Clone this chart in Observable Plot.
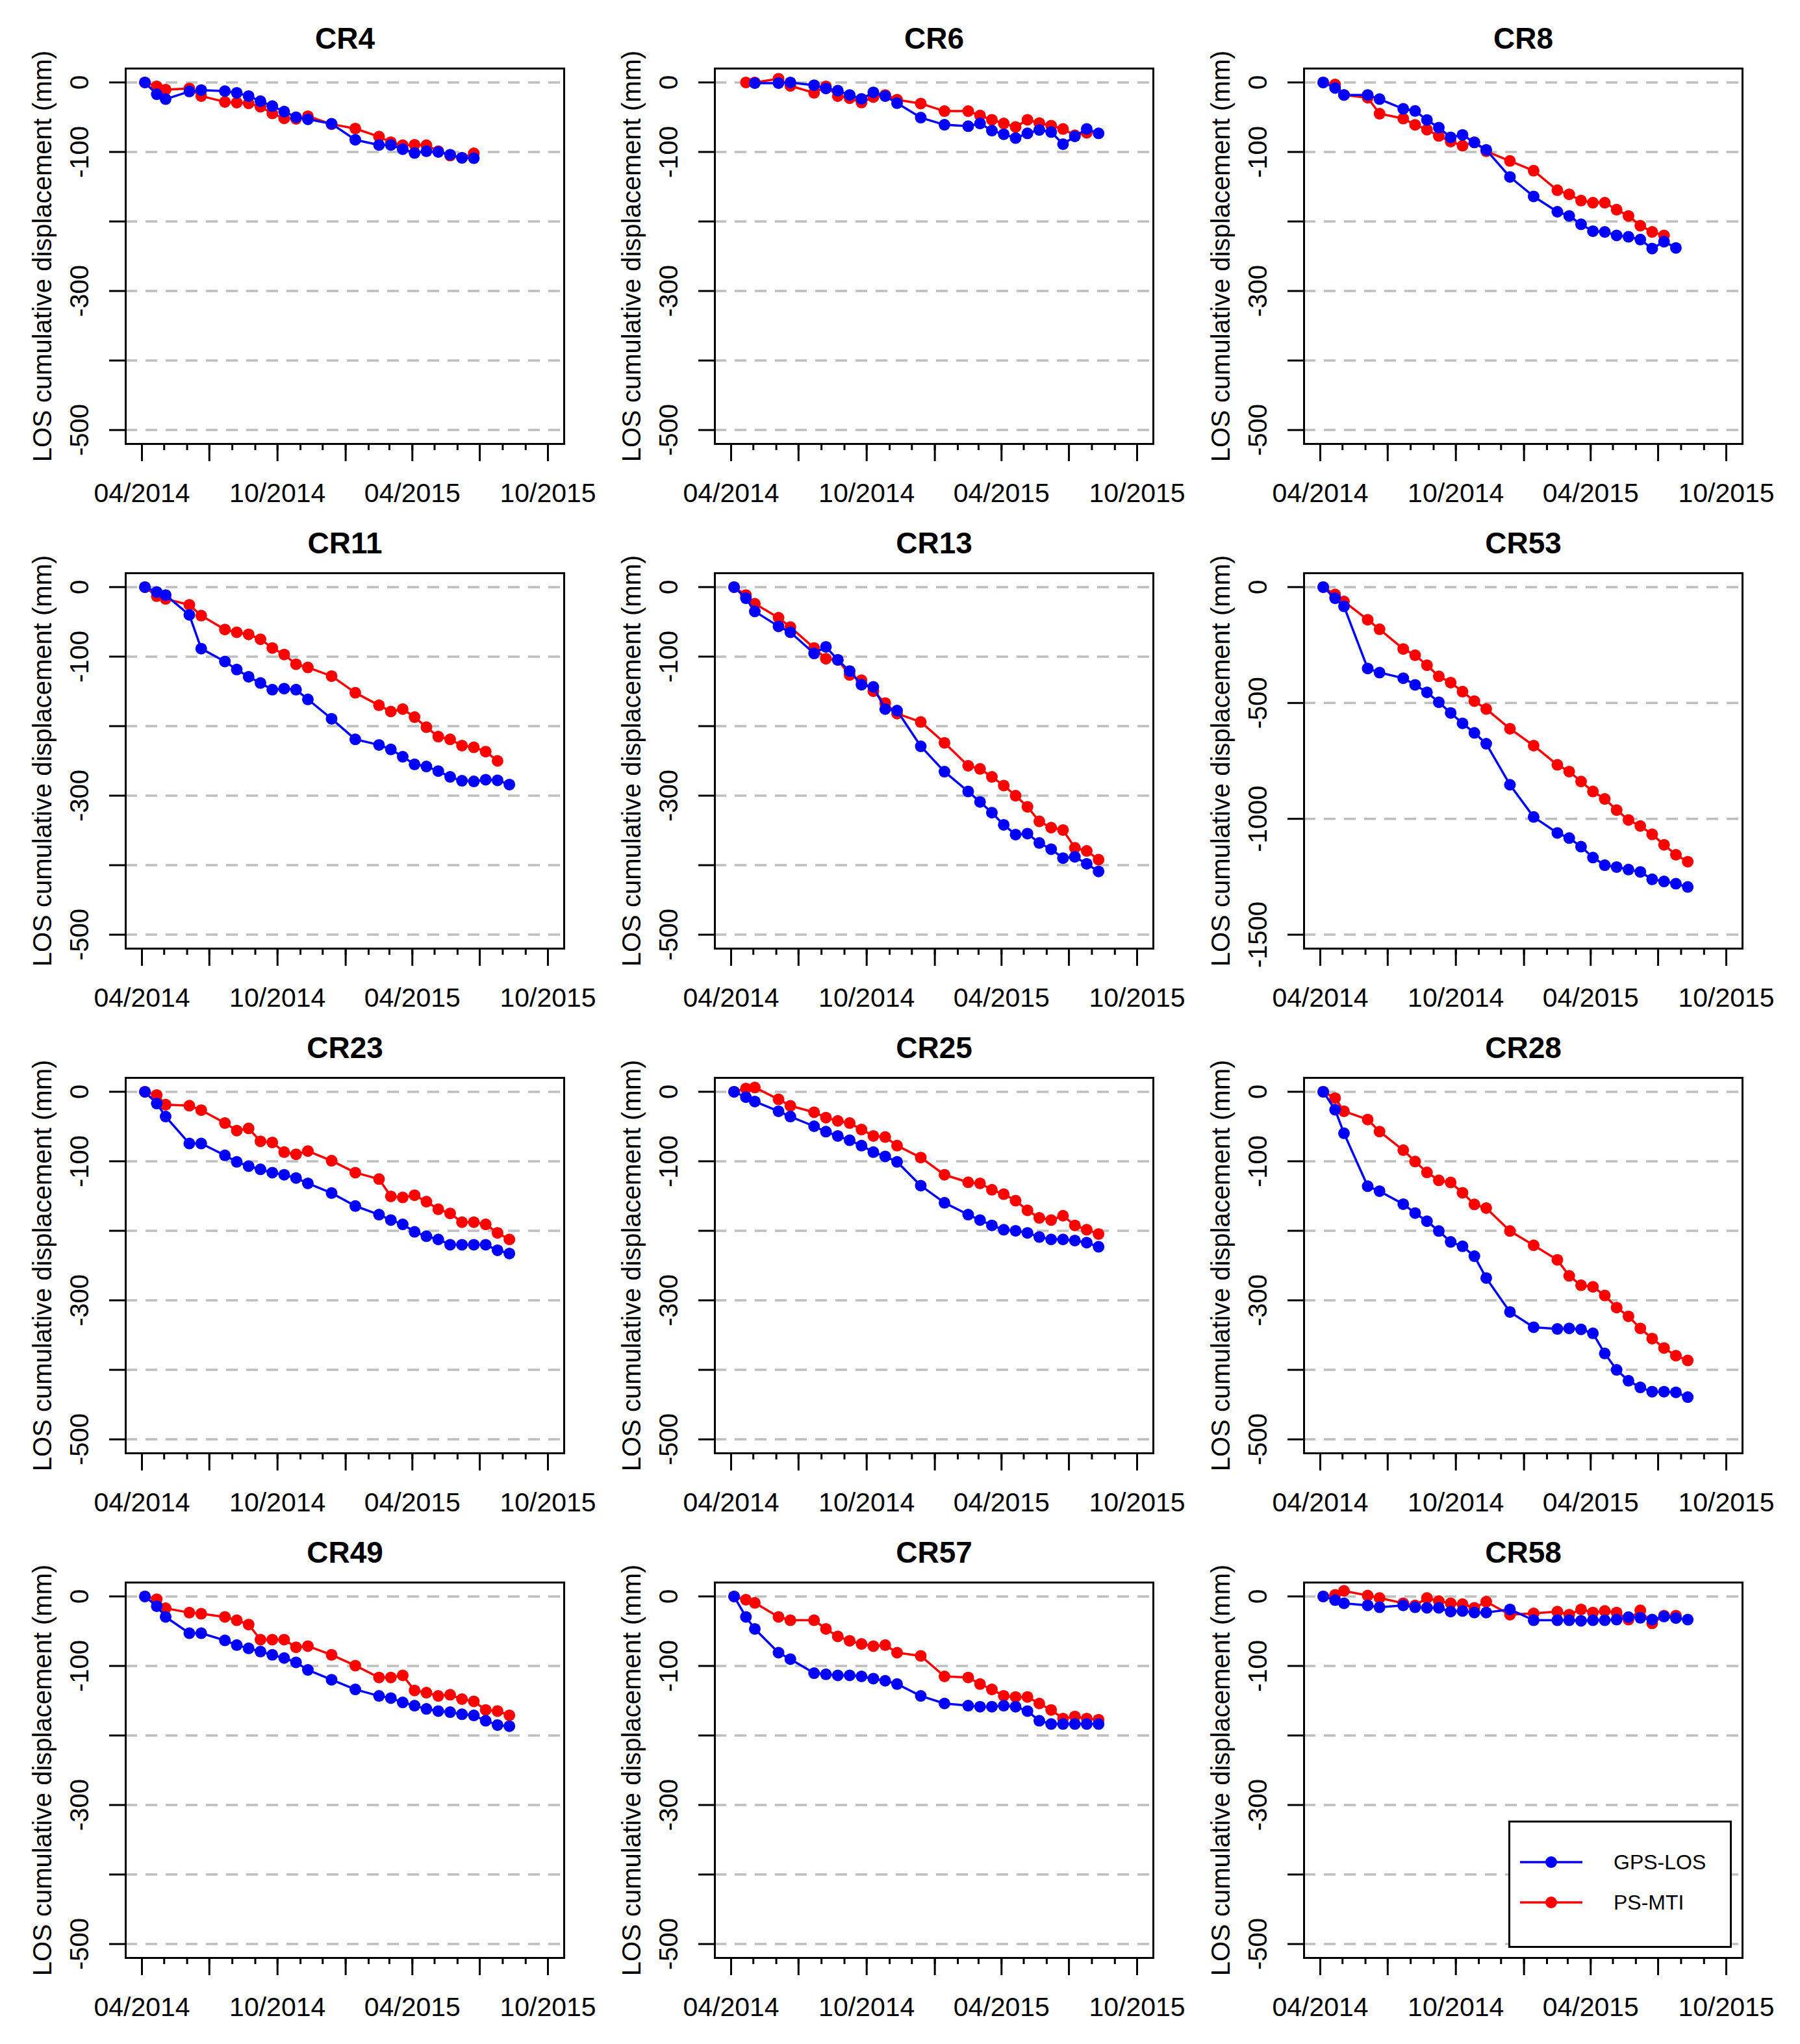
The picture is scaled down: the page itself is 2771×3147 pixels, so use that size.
<!DOCTYPE html>
<html>
<head>
<meta charset="utf-8">
<script src="https://cdn.jsdelivr.net/npm/d3@7"></script>
<script src="https://cdn.jsdelivr.net/npm/@observablehq/plot@0.6"></script>
<style>
  body { margin: 0; background: #fff; font-family: "Liberation Sans", Arial, Helvetica, sans-serif; }
  #grid { display: flex; flex-wrap: wrap; width: 2721px; }
  .cell { position: relative; width: 907px; height: 777px; }
  .cell > svg { position: absolute; left: 0; top: 0; }
  .legend { position: absolute; border: 3px solid #000; box-sizing: border-box; background: #fff; z-index: 2; }
</style>
</head>
<body>
<div id="grid"></div>
<script>
// ---------- data ----------
const dates = ["2014-04-05","2014-04-21","2014-05-03","2014-06-04","2014-06-20","2014-07-22","2014-08-07","2014-08-23","2014-09-08","2014-09-24","2014-10-10","2014-10-26","2014-11-11","2014-12-13","2015-01-14","2015-02-15","2015-03-03","2015-03-19","2015-04-04","2015-04-20","2015-05-06","2015-05-22","2015-06-07","2015-06-23","2015-07-09","2015-07-25","2015-08-10"];

const panelNames = ["CR4","CR6","CR8","CR11","CR13","CR53","CR23","CR25","CR28","CR49","CR57","CR58"];
const seriesNames = ["GPS-LOS","PS-MTI"];

const cr4Gps = [0,-17,-24,-13,-11,-12.5,-15,-19.6,-27,-34,-42,-50,-53,-59.5,-82.5,-90,-90,-96,-101.5,-99,-100,-104,-108.4,-109,null,null,null];
const cr4Ps  = [0,-5.6,-10.3,-8.7,-19.6,-28,-29,-30,-35,-44.5,-51.7,-52.3,-48.6,-60,-66.4,-77.9,-86,-90.3,-89.7,-90.3,-99,-105.3,-108.4,-102,null,null,null];
const cr6Gps = [null,null,-1,-1,0,-4,-8.7,-11.8,-18,-23.6,-14.3,-19.6,-29.8,-50.6,-60.9,-63,-59,-69.3,-74.5,-80,-73.3,-68.3,-71.4,-88.8,-77.6,-67,-73.3];
const cr6Ps  = [null,0,0,5.3,-5,-14.9,-5.6,-19.6,-22.7,-28.9,-21.1,-18,-24.8,-30.4,-41.3,-41.3,-47.5,-53.7,-59,-64,-53.7,-58.4,-62.1,-67,-76,-72.4,null];
const cr8Gps = [0,-8,-18,-18,-24,-38,-41,-54,-65,-79,-75.5,-86.3,-97,-136,-164,-186,-192,-204,-214,-215,-220,-222,-226,-239,-229,-238,null];
const cr8Ps  = [0,-3,-18,-22,-45,-52,-61,-68,-77,-85,-91,-86,-99,-113,-127,-155,-161,-170,-173,-173,-183,-192,-206,-215,-220,null,null];
const cr11Gps = [0,-7,-11.5,-40,-88.5,-107,-118.6,-129,-138,-147.5,-146,-147.5,-161.5,-189.4,-219,-227,-233.5,-244,-255,-258,-264.6,-273,-278.6,-279.5,-277,-278,-284];
const cr11Ps  = [0,-13,-17,-25.5,-41,-61,-65,-68,-75,-87.6,-97,-111,-115.5,-128,-152,-170,-179,-175.5,-187,-201.5,-215,-219,-228,-230.4,-236.6,-250,null];
const cr13Gps = [0,-16,-35,-56.5,-65,-95.4,-86,-104.7,-120.8,-140.4,-143.5,-175.5,-177.6,-229,-265.5,-294,-309,-324.5,-342,-356,-354.6,-368,-377,-389.8,-388,-398,-409];
const cr13Ps  = [0,-11.5,-24,-44,-57.5,-87.6,-103,-104.7,-126.4,-134,-149.7,-166.8,-182,-194,-224,-257,-261.5,-273,-285.4,-300,-316,-337,-346,-349.4,-375,-379.5,-392];
const cr53Gps = [0,-48,-83,-351,-369,-393,-422,-454,-497,-543,-588,-629,-676,-853,-992,-1061,-1083,-1120,-1167,-1200,-1208,-1219,-1229,-1261,-1270,-1280,-1294];
const cr53Ps  = [0,-32,-62,-141,-182,-267,-294,-337,-385,-412,-451,-492,-526,-611,-684,-767,-796,-839,-882,-914,-962,-1005,-1031,-1067,-1112,-1155,-1185];
const cr23Gps = [0,-17,-35.7,-74.4,-74.4,-91.5,-100.8,-107,-111.6,-116.3,-119.4,-124,-131.8,-145.7,-164.3,-176.7,-184.5,-190.7,-201.5,-207.8,-212.4,-220,-220,-220,-220,-228,-232.6];
const cr23Ps  = [0,-4.7,-18.6,-20,-26.4,-45,-55.8,-52.7,-71.3,-72.9,-86.8,-89.9,-85.3,-99.2,-116.3,-125.6,-150.4,-152,-148.8,-158,-169,-175,-187.6,-187.6,-190.7,-203,-212.4];
const cr25Gps = [0,-7.8,-14,-28,-35.7,-49.6,-57.4,-63.6,-69.8,-77.5,-86.8,-93,-100.8,-135,-159.7,-176.7,-184.5,-192.2,-198.4,-200,-203,-209,-212.4,-212.4,-214,-217,-223];
const cr25Ps  = [0,4.7,6.2,-10.9,-20.2,-29.5,-37.2,-41.9,-45,-54.3,-63.6,-65.1,-77.5,-94.6,-119.4,-130.2,-131.8,-141,-147.3,-156.6,-170.5,-181.4,-184.5,-178.3,-192.2,-198.4,-204.6];
const cr28Gps = [0,-25.8,-59.7,-135.8,-143,-161.6,-174.5,-186.2,-200.3,-216,-222.3,-236.5,-267.9,-316.7,-338.7,-341.2,-340.3,-341.8,-347.5,-376.4,-400,-415.7,-425.2,-431.4,-431.4,-432.4,-439.3];
const cr28Ps  = [0,-9.1,-28,-40,-57.2,-84,-100.3,-116,-127.4,-130.5,-145.3,-162,-167.3,-200.3,-220.8,-241.8,-264.8,-278.3,-280.5,-293,-310.4,-323,-340.3,-355,-368.6,-379.6,-386.5];
const cr49Gps = [0,-14,-29.5,-52.9,-52.9,-63.2,-70,-74.7,-79.3,-84,-88.6,-94.9,-105.7,-119.8,-133.8,-143.1,-146.2,-152.4,-157.1,-161.8,-164.9,-166.4,-169.5,-171.1,-178.8,-185,-186.6];
const cr49Ps  = [0,-4,-17,-23.3,-24.9,-29.5,-34.2,-40.4,-62.2,-62.2,-62.2,-73.1,-71.5,-84,-99.5,-116.6,-116.6,-113.5,-135.3,-138.4,-143.1,-141.5,-147.7,-150.9,-163.3,-164.9,-171];
const cr57Gps = [0,-29.5,-46.7,-80.9,-90.2,-110.4,-112,-113.5,-113.5,-115,-118.2,-121.3,-126,-143.1,-154,-157.1,-158.6,-158.6,-157.1,-158.6,-164.9,-178.8,-183.5,-183.5,-183.5,-183.5,-183.5];
const cr57Ps  = [0,-4.7,-9.3,-29.5,-34.2,-34.2,-46.7,-57.5,-63.8,-68.4,-71.5,-70,-80.9,-85.5,-115,-116.6,-126,-133.8,-143,-144.6,-144.6,-154,-163.3,-175.7,-172.6,-175.7,-177.3];
const cr58Gps = [0,-5.3,-9.8,-12.9,-15.6,-12.9,-15.6,-16.4,-16.4,-21.8,-20.9,-23.1,-23.1,-18.7,-34.2,-34.2,-34.2,-35.1,-34.2,-34.2,-33.3,-29.8,-30.7,-33.3,-28.9,-31.1,-33.3];
const cr58Ps  = [0,2.2,8,1.3,-2.2,-9.8,-13,-2.2,-6.7,-9.8,-11.1,-16.4,-7.6,-26.2,-24.4,-21.8,-26.2,-18.7,-23.1,-20.9,-23.1,-33.3,-20,-38.7,-27.6,-27.6,null];

// axis ticks and labels
const yLimStd = [-500, 0];
const yLimBig = [-1500, 0];
const yTicksStd = [0, -100, -200, -300, -400, -500];
const yLabelsStd = [0, -100, -300, -500];
const yTicksBig = [0, -500, -1000, -1500];
const xLim = ["2014-04-01", "2015-10-01"];
const xMajorTicks = ["2014-04-01","2014-07-01","2014-10-01","2015-01-01","2015-04-01","2015-07-01","2015-10-01"];
const xMajorLabels = ["04/2014","","10/2014","","04/2015","","10/2015"];
const yTitle = "LOS cumulative displacement (mm)";

// ---------- drawing ----------
const gpsByPanel = [cr4Gps, cr6Gps, cr8Gps, cr11Gps, cr13Gps, cr53Gps, cr23Gps, cr25Gps, cr28Gps, cr49Gps, cr57Gps, cr58Gps];
const psByPanel  = [cr4Ps, cr6Ps, cr8Ps, cr11Ps, cr13Ps, cr53Ps, cr23Ps, cr25Ps, cr28Ps, cr49Ps, cr57Ps, cr58Ps];

const BLUE = "#0000FF", RED = "#FF0000";
const FONT = '"Liberation Sans", Arial, Helvetica, sans-serif';

const x0 = new Date(xLim[0]), x1 = new Date(xLim[1]);
const xPad = (x1 - x0) * 0.04;
const xDomain = [new Date(+x0 - xPad), new Date(+x1 + xPad)];
const xMinorTicks = d3.utcMonth.range(x0, new Date(+x1 + 1));
const majorDates = xMajorTicks.map(d => new Date(d));
const majorLabel = d => { const i = majorDates.findIndex(m => +m === +d); return i >= 0 ? xMajorLabels[i] : ""; };
const extend = lim => { const p = (lim[1] - lim[0]) * 0.04; return [lim[0] - p, lim[1] + p]; };

const grid = document.getElementById("grid");

panelNames.forEach((name, k) => {
  const big = name === "CR53";
  const rows = vals => dates.map((d, i) => ({date: new Date(d), value: vals[i]})).filter(r => r.value !== null && r.value !== undefined);
  const gps = rows(gpsByPanel[k]);
  const ps = rows(psByPanel[k]);
  const yTicks = big ? yTicksBig : yTicksStd;
  const yLabels = big ? yTicksBig : yLabelsStd;

  const chart = Plot.plot({
    width: 907,
    height: 777,
    marginLeft: 193,
    marginRight: 39,
    marginTop: 105,
    marginBottom: 94,
    style: {fontFamily: FONT, background: "transparent", overflow: "visible", color: "black"},
    x: {type: "utc", domain: xDomain, label: null},
    y: {domain: extend(big ? yLimBig : yLimStd), label: null},
    marks: [
      Plot.gridY(yTicks, {stroke: "#BEBEBE", strokeOpacity: 1, strokeWidth: 3.5, strokeDasharray: "18,13"}),
      Plot.line(ps, {x: "date", y: "value", stroke: RED, strokeWidth: 3.5}),
      Plot.dot(ps, {x: "date", y: "value", r: 9, fill: RED}),
      Plot.line(gps, {x: "date", y: "value", stroke: BLUE, strokeWidth: 3.5}),
      Plot.dot(gps, {x: "date", y: "value", r: 9, fill: BLUE}),
      Plot.frame({stroke: "black", strokeWidth: 3}),
      Plot.axisY(yTicks, {anchor: "left", tickSize: 25, tickPadding: 33, tickRotate: -90, fontSize: 40, strokeWidth: 3, label: null,
        tickFormat: d => yLabels.includes(d) ? String(d) : ""}),
      Plot.axisX(xMinorTicks, {anchor: "bottom", tickSize: 10, strokeWidth: 3, label: null, tickFormat: () => ""}),
      Plot.axisX(majorDates, {anchor: "bottom", tickSize: 27, tickPadding: 33, strokeWidth: 3, fontSize: 41, label: null,
        tickFormat: majorLabel}),
      Plot.text([name], {text: d => d, frameAnchor: "top", dy: -31, lineAnchor: "bottom", fontSize: 46, fontWeight: "bold"}),
      Plot.text([yTitle], {text: d => d, frameAnchor: "left", dx: -127, rotate: -90, textAnchor: "middle", lineAnchor: "middle", fontSize: 40})
    ]
  });

  const cell = document.createElement("div");
  cell.className = "cell";
  cell.style.zIndex = String(20 - k);
  cell.appendChild(chart);

  if (name === "CR58") {
    const lg = document.createElement("div");
    lg.className = "legend";
    lg.style.left = "508px";
    lg.style.top = "472px";
    lg.style.width = "344px";
    lg.style.height = "196px";
    const ns = "http://www.w3.org/2000/svg";
    const svg = document.createElementNS(ns, "svg");
    svg.setAttribute("width", "338");
    svg.setAttribute("height", "190");
    svg.style.display = "block";
    [[seriesNames[0], BLUE, 61], [seriesNames[1], RED, 123]].forEach(([label, color, cy]) => {
      const ln = document.createElementNS(ns, "line");
      ln.setAttribute("x1", 15); ln.setAttribute("x2", 111);
      ln.setAttribute("y1", cy); ln.setAttribute("y2", cy);
      ln.setAttribute("stroke", color); ln.setAttribute("stroke-width", 3.5);
      svg.appendChild(ln);
      const c = document.createElementNS(ns, "circle");
      c.setAttribute("cx", 63); c.setAttribute("cy", cy); c.setAttribute("r", 9);
      c.setAttribute("fill", color);
      svg.appendChild(c);
      const t = document.createElementNS(ns, "text");
      t.setAttribute("x", 159); t.setAttribute("y", cy + 11);
      t.setAttribute("font-size", 32);
      t.setAttribute("font-family", FONT);
      t.textContent = label;
      svg.appendChild(t);
    });
    lg.appendChild(svg);
    cell.appendChild(lg);
  }
  grid.appendChild(cell);
});
</script>
</body>
</html>
